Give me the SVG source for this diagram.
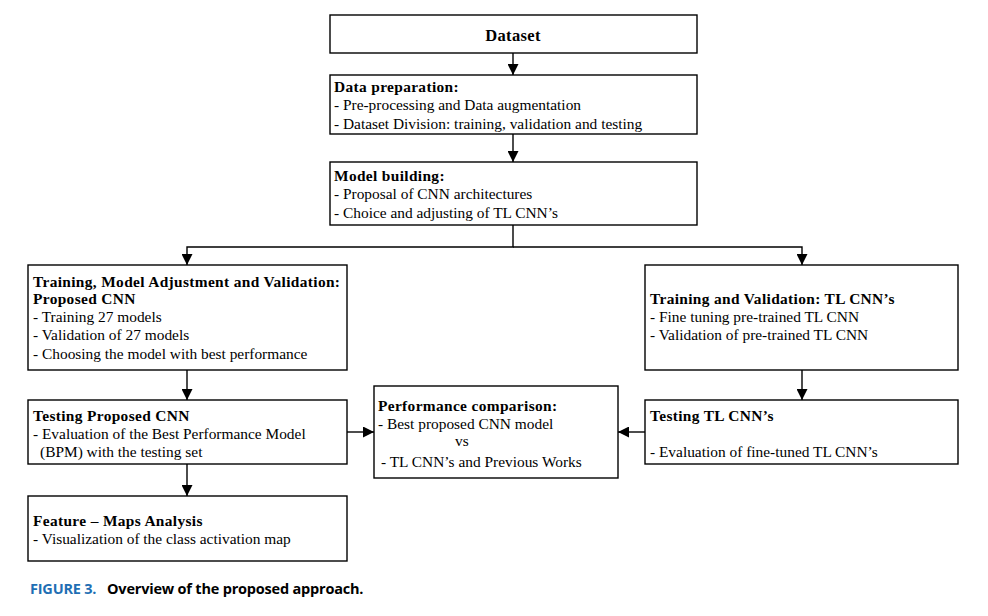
<svg xmlns="http://www.w3.org/2000/svg" width="988" height="616" viewBox="0 0 988 616">
<style>
.box{fill:#fff;stroke:#000;stroke-width:1.4}
text{font-family:"Liberation Serif","Times New Roman",serif;font-size:15.4px;fill:#000}
.h{font-weight:bold;letter-spacing:0.35px}
.cn line,.cn polyline{stroke:#000;stroke-width:1.4;fill:none}
.cap{font-family:"Open Sans","Liberation Sans",sans-serif;font-weight:bold;font-size:14.5px;letter-spacing:-0.2px}
</style>
<defs>
<marker id="ah" viewBox="0 0 10 10" refX="10" refY="5" markerWidth="11" markerHeight="11" markerUnits="userSpaceOnUse" orient="auto">
<path d="M0,0 L10,5 L0,10 Z" fill="#000"/>
</marker>
</defs>
<rect width="988" height="616" fill="#fff"/>
<g class="cn" id="connectors">
<line x1="513" y1="53" x2="513" y2="75" marker-end="url(#ah)"/>
<line x1="513" y1="134" x2="513" y2="162" marker-end="url(#ah)"/>
<polyline points="513,225 513,247 187,247 187,265" marker-end="url(#ah)"/>
<polyline points="513,247 802,247 802,265" marker-end="url(#ah)"/>
<line x1="187" y1="370" x2="187" y2="400" marker-end="url(#ah)"/>
<line x1="802" y1="370" x2="802" y2="400" marker-end="url(#ah)"/>
<line x1="187" y1="464" x2="187" y2="496" marker-end="url(#ah)"/>
<line x1="347" y1="432" x2="374" y2="432" marker-end="url(#ah)"/>
<line x1="645" y1="432" x2="618" y2="432" marker-end="url(#ah)"/>
</g>
<g id="dataset">
<rect class="box" x="330" y="15" width="367" height="38"/>
<text class="h" x="513" y="41" text-anchor="middle" style="font-size:16.5px">Dataset</text>
</g>
<g id="dataprep">
<rect class="box" x="330" y="75" width="367" height="59"/>
<text class="h" x="334" y="92">Data preparation:</text>
<text x="334" y="110">- Pre-processing and Data augmentation</text>
<text x="334" y="129">- Dataset Division: training, validation and testing</text>
</g>
<g id="modelbuilding">
<rect class="box" x="330" y="162" width="367" height="63"/>
<text class="h" x="334" y="181">Model building:</text>
<text x="334" y="199">- Proposal of CNN architectures</text>
<text x="334" y="218">- Choice and adjusting of TL CNN’s</text>
</g>
<g id="trainprop">
<rect class="box" x="28" y="265" width="319" height="105"/>
<text class="h" x="33" y="287">Training, Model Adjustment and Validation:</text>
<text class="h" x="33" y="304">Proposed CNN</text>
<text x="33" y="322">- Training 27 models</text>
<text x="33" y="340">- Validation of 27 models</text>
<text x="33" y="359">- Choosing the model with best performance</text>
</g>
<g id="traintl">
<rect class="box" x="645" y="265" width="313" height="105"/>
<text class="h" x="650" y="304">Training and Validation: TL CNN’s</text>
<text x="650" y="322">- Fine tuning pre-trained TL CNN</text>
<text x="650" y="340">- Validation of pre-trained TL CNN</text>
</g>
<g id="testprop">
<rect class="box" x="28" y="400" width="319" height="64"/>
<text class="h" x="33" y="421">Testing Proposed CNN</text>
<text x="33" y="439">- Evaluation of the Best Performance Model</text>
<text x="40" y="457">(BPM) with the testing set</text>
</g>
<g id="testtl">
<rect class="box" x="645" y="400" width="313" height="64"/>
<text class="h" x="650" y="421">Testing TL CNN’s</text>
<text x="650" y="457">- Evaluation of fine-tuned TL CNN’s</text>
</g>
<g id="perf">
<rect class="box" x="374" y="386" width="244" height="92"/>
<text class="h" x="378" y="411">Performance comparison:</text>
<text x="378" y="429">- Best proposed CNN model</text>
<text x="455" y="446">vs</text>
<text x="381" y="467">- TL CNN’s and Previous Works</text>
</g>
<g id="featmaps">
<rect class="box" x="28" y="496" width="319" height="65"/>
<text class="h" x="33" y="526">Feature – Maps Analysis</text>
<text x="33" y="544">- Visualization of the class activation map</text>
</g>
<g id="caption">
<text class="cap" x="30" y="594" style="fill:#1f6fb4">FIGURE 3.</text>
<text class="cap" x="107" y="594">Overview of the proposed approach.</text>
</g>
</svg>
